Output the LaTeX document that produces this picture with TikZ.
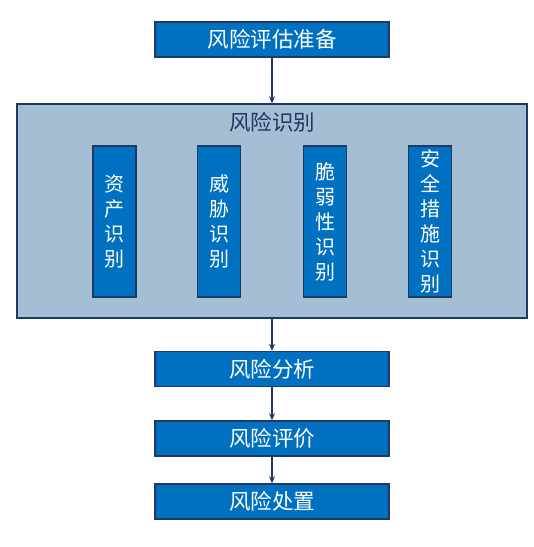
\documentclass[tikz,border=0pt]{standalone}
\usepackage{fontspec}
\newfontfamily\cjk{Noto Sans CJK SC}
\usetikzlibrary{arrows.meta}
\definecolor{boxblue}{HTML}{0070C0}
\definecolor{navy}{HTML}{1F3864}
\definecolor{paleblue}{HTML}{A4BED3}
\begin{document}
\begin{tikzpicture}[x=1pt,y=-1pt,
  stepbox/.style={draw=navy,line width=1.5pt,fill=boxblue,text=white,font=\cjk\fontsize{21.5}{24}\selectfont,minimum width=234pt,minimum height=35pt,inner sep=0pt},
  subbox/.style={draw=navy,line width=1.5pt,fill=boxblue,text=white,font=\cjk\fontsize{20}{25}\selectfont,minimum width=43pt,minimum height=151pt,inner sep=0pt,align=center},
  conn/.style={draw=navy,line width=1.5pt,-{Stealth[length=7pt,width=6pt]}}]
\useasboundingbox (0,0) rectangle (534,547);
\node[stepbox] (prep) at (272,39.5) {风险评估准备};
\node[draw=navy,line width=1.5pt,fill=paleblue,minimum width=510pt,minimum height=214pt,inner sep=0pt] (ident) at (272,211) {};
\node[text=navy,font=\cjk\fontsize{21.5}{24}\selectfont,inner sep=0pt] (identt) at (272,122) {风险识别};
\node[subbox] (s1) at (114.5,221.5) {资\\产\\识\\别};
\node[subbox] (s2) at (219,221.5) {威\\胁\\识\\别};
\node[subbox] (s3) at (325,221.5) {脆\\弱\\性\\识\\别};
\node[subbox] (s4) at (430,221.5) {安\\全\\措\\施\\识\\别};
\node[stepbox] (ana) at (272,369) {风险分析};
\node[stepbox] (eva) at (272,438.5) {风险评价};
\node[stepbox] (trt) at (272,501.5) {风险处置};
\draw[conn] (prep) -- (ident);
\draw[conn] (ident) -- (ana);
\draw[conn] (ana) -- (eva);
\draw[conn] (eva) -- (trt);
\end{tikzpicture}
\end{document}
